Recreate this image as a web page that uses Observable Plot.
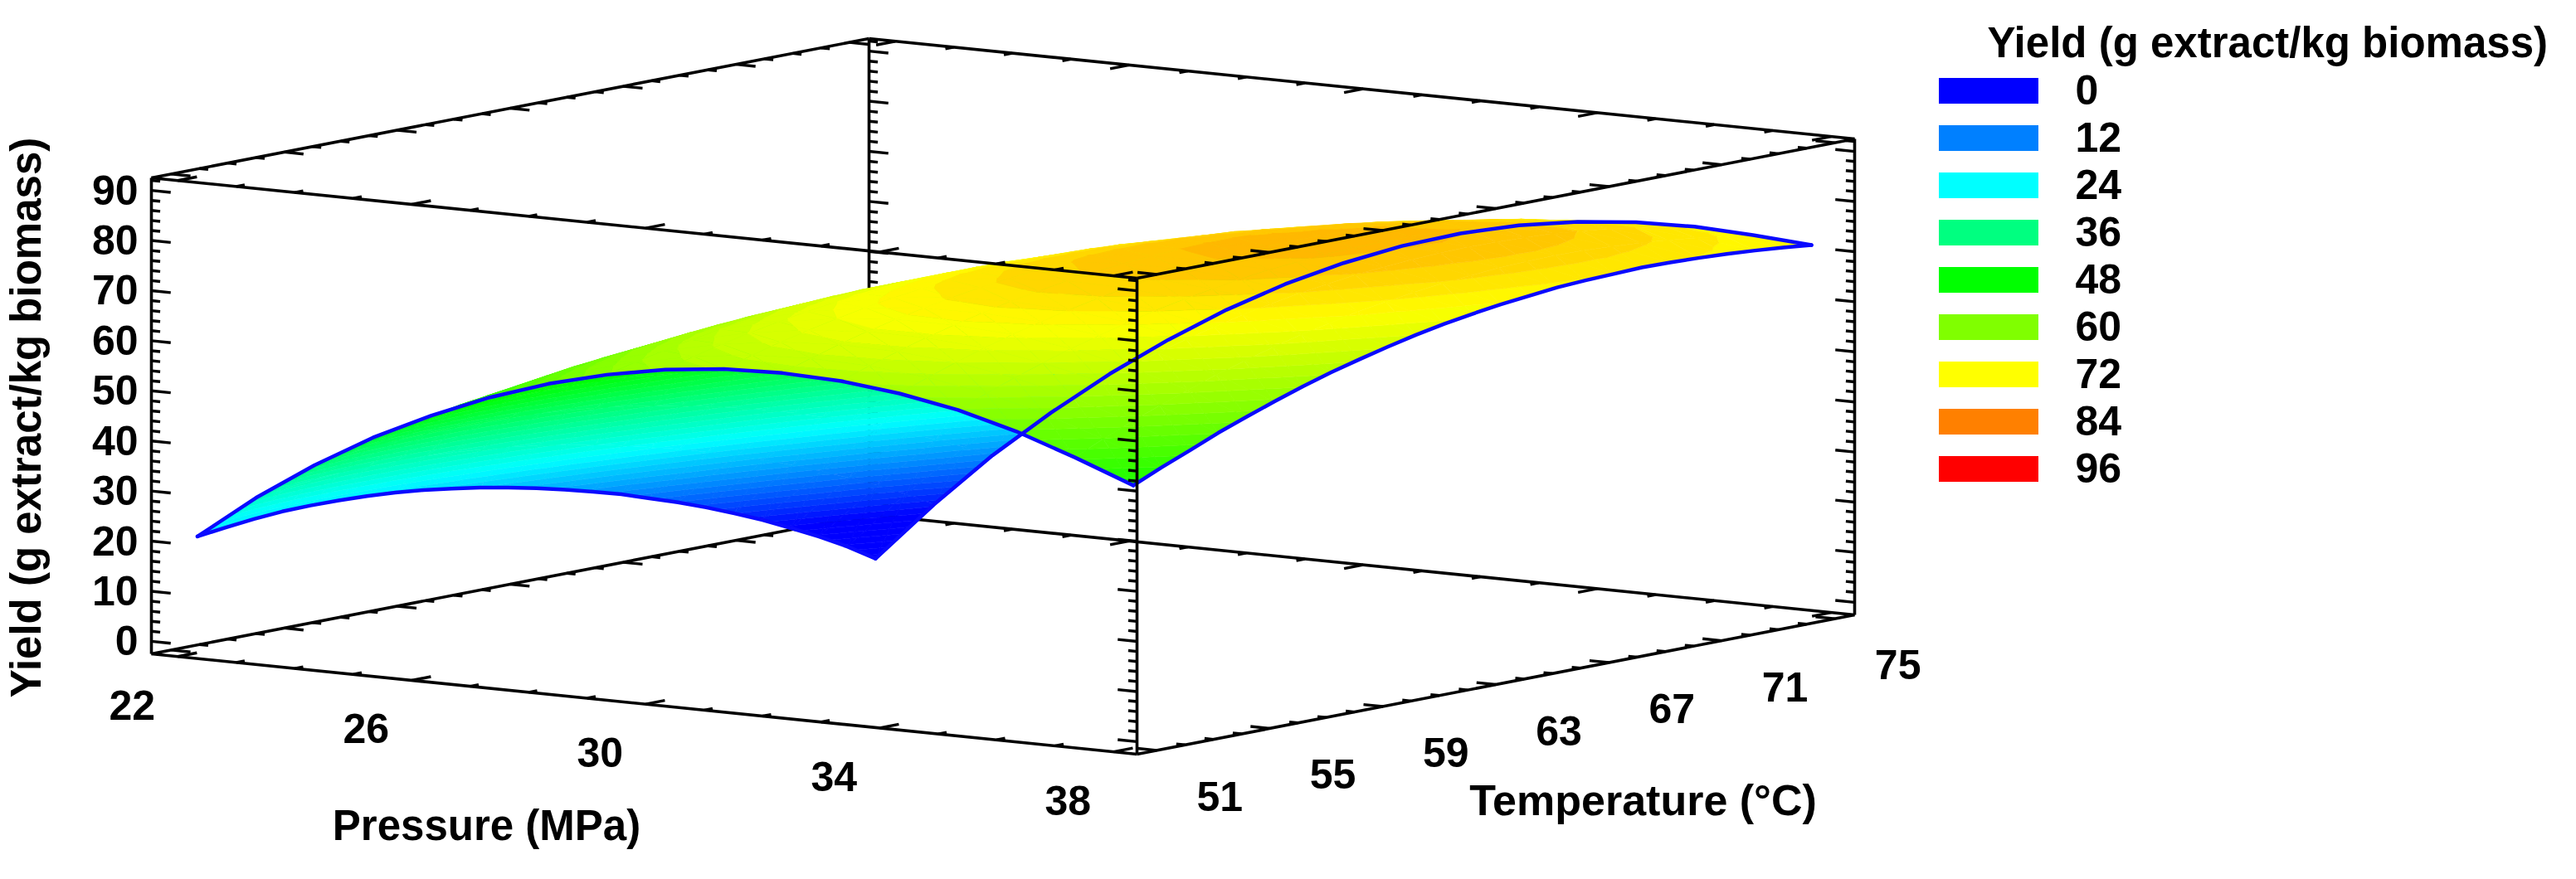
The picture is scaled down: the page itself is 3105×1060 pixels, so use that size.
<!DOCTYPE html>
<html>
<head>
<meta charset="utf-8">
<script src="https://cdn.jsdelivr.net/npm/d3@7"></script>
<script src="https://cdn.jsdelivr.net/npm/@observablehq/plot@0.6"></script>
<style>
html,body{margin:0;padding:0;background:#fff}
#chart{position:relative;width:3105px;height:1060px;overflow:hidden}
#chart svg{position:absolute;background:transparent;max-width:none}
</style>
</head>
<body>
<div id="chart"></div>
<script>
// ---- data ----
const pressures = [22,23,24,25,26,27,28,29,30,31,32,33,34,35,36,37,38];
const temperatures = [51,52,53,54,55,56,57,58,59,60,61,62,63,64,65,66,67,68,69,70,71,72,73,74,75];
// one row per temperature, one column per pressure
const yieldRows = [
[20.7,29.6,37.3,44.0,49.6,54.4,58.3,61.3,63.5,64.8,65.2,64.8,63.5,61.4,58.3,54.3,49.9],
[21.4,30.4,38.1,44.8,50.6,55.5,59.5,62.7,65.0,66.5,67.0,66.7,65.6,63.6,60.7,56.9,52.4],
[22.0,30.9,38.8,45.5,51.4,56.5,60.6,63.9,66.4,68.0,68.7,68.5,67.5,65.6,62.9,59.2,54.7],
[22.4,31.3,39.2,46.1,52.1,57.3,61.6,65.0,67.6,69.3,70.2,70.1,69.3,67.5,64.9,61.4,57.1],
[22.5,31.5,39.4,46.5,52.6,57.9,62.4,66.0,68.7,70.5,71.5,71.6,70.9,69.3,66.8,63.4,59.2],
[22.4,31.5,39.5,46.7,53.0,58.4,63.0,66.7,69.6,71.6,72.7,72.9,72.3,70.8,68.5,65.3,61.2],
[22.2,31.3,39.5,46.8,53.2,58.8,63.5,67.4,70.4,72.5,73.7,74.1,73.6,72.3,70.1,67.0,63.1],
[21.8,31.0,39.3,46.7,53.3,59.0,63.9,67.9,71.0,73.2,74.6,75.1,74.8,73.6,71.5,68.6,64.8],
[21.2,30.5,38.9,46.5,53.2,59.1,64.1,68.2,71.4,73.8,75.3,76.0,75.8,74.7,72.8,70.0,66.3],
[20.4,29.9,38.4,46.2,53.0,59.0,64.1,68.4,71.8,74.3,75.9,76.7,76.6,75.7,73.9,71.2,67.7],
[19.5,29.1,37.8,45.6,52.6,58.7,64.0,68.4,71.9,74.6,76.4,77.3,77.4,76.6,74.9,72.4,69.0],
[18.4,28.1,37.0,45.0,52.1,58.4,63.8,68.3,71.9,74.7,76.7,77.7,77.9,77.3,75.7,73.3,70.1],
[17.2,27.1,36.0,44.2,51.4,57.8,63.3,68.0,71.8,74.7,76.8,78.0,78.3,77.8,76.4,74.1,71.0],
[15.8,25.8,35.0,43.2,50.6,57.1,62.8,67.6,71.5,74.6,76.8,78.1,78.6,78.2,76.9,74.8,71.8],
[14.3,24.4,33.7,42.1,49.6,56.3,62.1,67.0,71.1,74.3,76.6,78.1,78.7,78.4,77.3,75.3,72.4],
[12.7,22.9,32.3,40.8,48.5,55.3,61.2,66.3,70.5,73.8,76.3,77.9,78.7,78.5,77.5,75.7,73.0],
[10.8,21.2,30.8,39.4,47.2,54.2,60.2,65.4,69.8,73.2,75.9,77.6,78.5,78.5,77.6,75.9,73.3],
[8.9,19.4,29.1,37.9,45.8,52.9,59.1,64.4,68.9,72.5,75.2,77.1,78.1,78.3,77.5,76.0,73.5],
[6.8,17.4,27.2,36.2,44.2,51.4,57.8,63.2,67.9,71.6,74.5,76.5,77.6,77.9,77.3,75.9,73.7],
[4.5,15.3,25.2,34.3,42.5,49.8,56.3,61.9,66.7,70.6,73.6,75.7,77.0,77.4,77.0,75.6,73.6],
[2.1,13.0,23.1,32.3,40.6,48.1,54.7,60.5,65.3,69.4,72.5,74.8,76.2,76.7,76.4,75.2,73.4],
[-0.6,10.6,20.8,30.1,38.6,46.2,53.0,58.8,63.9,68.0,71.3,73.7,75.2,75.9,75.8,74.7,73.1],
[-3.4,8.0,18.3,27.8,36.4,44.2,51.1,57.1,62.2,66.5,69.9,72.5,74.2,75.0,74.9,74.0,72.7],
[-6.5,5.2,15.7,25.4,34.1,42.0,49.0,55.2,60.4,64.9,68.4,71.1,72.9,73.9,74.0,73.3,72.2],
[-10.0,2.0,13.0,22.7,31.6,39.6,46.8,53.1,58.5,63.1,66.8,69.6,71.5,72.6,72.9,72.4,71.6]
];
const pressureTicks = [22,26,30,34,38];
const pressureMinor = [22,23,24,25,26,27,28,29,30,31,32,33,34,35,36,37,38];
const temperatureTicks = [51,55,59,63,67,71,75];
const temperatureMinor = [51,52,53,54,55,56,57,58,59,60,61,62,63,64,65,66,67,68,69,70,71,72,73,74,75];
const yieldTicks = [0,10,20,30,40,50,60,70,80,90];
const yieldMinor = [0,2,4,6,8,10,12,14,16,18,20,22,24,26,28,30,32,34,36,38,40,42,44,46,48,50,52,54,56,58,60,62,64,66,68,70,72,74,76,78,80,82,84,86,88,90,92];
const legendValues = [0,12,24,36,48,60,72,84,96];
const legendColors = ["#0000ff","#0080ff","#00ffff","#00ff80","#00ff00","#80ff00","#ffff00","#ff8000","#ff0000"];
const titleYield = "Yield (g extract/kg biomass)";
const titlePressure = "Pressure (MPa)";
const titleTemperature = "Temperature (°C)";

// ---- parallel projection of the 3-D box ----
const Pd = [21.55, 38.4], Td = [50.3, 75.7], Yd = [-2.5, 92.5];
const view = {origin:[182,788], P:[1188,121], T:[865,-168], Y:[0,-574]};
function project(p,t,y){
  const u=(p-Pd[0])/(Pd[1]-Pd[0]), v=(t-Td[0])/(Td[1]-Td[0]), w=(y-Yd[0])/(Yd[1]-Yd[0]);
  return [view.origin[0]+u*view.P[0]+v*view.T[0]+w*view.Y[0],
          view.origin[1]+u*view.P[1]+v*view.T[1]+w*view.Y[1]];
}
const seg=(a,b,kind)=>({x1:a[0],y1:a[1],x2:b[0],y2:b[1],kind});

// box edges and ticks, split into parts behind and in front of the surface
const back=[], front=[];
const [P0,P1]=Pd,[T0,T1]=Td,[Y0,Y1]=Yd;
const reachP={major:.33,minor:.15}, reachT={major:.68,minor:.3};
function addVertical(list,p,t,s){
  list.push(seg(project(p,t,Y0),project(p,t,Y1),"edge"));
  yieldMinor.forEach(y=>{const k=yieldTicks.includes(y)?"major":"minor";
    list.push(seg(project(p,t,y),project(p+s*reachP[k],t,y),k));});
}
function addPEdge(list,t,y,s){
  list.push(seg(project(P0,t,y),project(P1,t,y),"edge"));
  pressureMinor.forEach(p=>{const k=pressureTicks.includes(p)?"major":"minor";
    list.push(seg(project(p,t,y),project(p,t+s*reachT[k],y),k));});
}
function addTEdge(list,p,y,s){
  list.push(seg(project(p,T0,y),project(p,T1,y),"edge"));
  temperatureMinor.forEach(t=>{const k=temperatureTicks.includes(t)?"major":"minor";
    list.push(seg(project(p,t,y),project(p+s*reachP[k],t,y),k));});
}
addVertical(back,P0,T1,1);
addPEdge(back,T1,Y0,-1);
addTEdge(back,P0,Y0,1);
addVertical(front,P0,T0,1);
addVertical(front,P1,T0,-1);
addVertical(front,P1,T1,-1);
addPEdge(front,T0,Y0,1);
addPEdge(front,T0,Y1,1);
addPEdge(front,T1,Y1,-1);
addTEdge(front,P1,Y0,-1);
addTEdge(front,P1,Y1,-1);
addTEdge(front,P0,Y1,1);

// facets of the surface, painted from the far corner to the near one;
// each facet is cut along the colour bands of the yield scale
const bandStep=1.5;
const mix=(a,b,f)=>({p:a.p+(b.p-a.p)*f,t:a.t+(b.t-a.t)*f,y:a.y+(b.y-a.y)*f});
function clipBand(poly,level,keepAbove){
  const out=[];
  poly.forEach((a,i)=>{
    const b=poly[(i+1)%poly.length];
    const ina=keepAbove?a.y>=level:a.y<=level, inb=keepAbove?b.y>=level:b.y<=level;
    if(ina) out.push(a);
    if(ina!==inb) out.push(mix(a,b,(level-a.y)/(b.y-a.y)));
  });
  return out;
}
const facets=[];
let fid=0;
for(let j=temperatures.length-2;j>=0;j--){
  for(let i=0;i<pressures.length-1;i++){
    const c=[[i,j],[i+1,j],[i+1,j+1],[i,j+1]].map(([a,b])=>({p:pressures[a],t:temperatures[b],y:yieldRows[b][a]}));
    const tris=[[c[3],c[2],c[1]],[c[3],c[1],c[0]]];
    tris.forEach(tri=>{
      const lo=Math.floor(d3.min(tri,d=>d.y)/bandStep), hi=Math.ceil(d3.max(tri,d=>d.y)/bandStep);
      for(let b=lo;b<hi;b++){
        let piece=clipBand(tri,b*bandStep,true);
        if(piece.length) piece=clipBand(piece,(b+1)*bandStep,false);
        if(piece.length<3) continue;
        const v=(b+.5)*bandStep;
        piece.forEach(d=>{const q=project(d.p,d.t,d.y);facets.push({id:fid,x:q[0],y:q[1],v});});
        fid++;
      }
    });
  }
}
// the blue outline of the surface
const outline=[];
pressures.forEach((p,i)=>{
  let q=project(p,temperatures[0],yieldRows[0][i]);outline.push({e:"a",x:q[0],y:q[1]});
  q=project(p,temperatures[24],yieldRows[24][i]);outline.push({e:"b",x:q[0],y:q[1]});
});
temperatures.forEach((t,j)=>{
  let q=project(pressures[0],t,yieldRows[j][0]);outline.push({e:"c",x:q[0],y:q[1]});
  q=project(pressures[16],t,yieldRows[j][16]);outline.push({e:"d",x:q[0],y:q[1]});
});

const font={fontFamily:"'Liberation Sans',Arial,sans-serif",fontWeight:"bold",fill:"#000"};
const boxMarks=list=>[
  Plot.link(list.filter(d=>d.kind==="edge"),{x1:"x1",y1:"y1",x2:"x2",y2:"y2",stroke:"#000",strokeWidth:3.6}),
  Plot.link(list.filter(d=>d.kind!=="edge"),{x1:"x1",y1:"y1",x2:"x2",y2:"y2",stroke:"#000",strokeWidth:3.4})
];
const colorScale={type:"linear",domain:legendValues,range:legendColors,clamp:true,interpolate:"rgb"};

const main=Plot.plot({
  width:3105,height:1060,margin:0,
  x:{domain:[0,3105],range:[0,3105],axis:null},
  y:{domain:[0,1060],range:[0,1060],axis:null},
  color:colorScale,
  style:{background:"transparent"},
  marks:[
    ...boxMarks(back),
    Plot.line(facets,{x:"x",y:"y",z:"id",fill:"v",stroke:"v",strokeWidth:0.8}),
    Plot.line(outline,{x:"x",y:"y",z:"e",stroke:"#0a0aff",strokeWidth:4.5}),
    ...boxMarks(front),
    Plot.text(pressureTicks,{x:d=>project(d,T0,Y0)[0],y:d=>project(d,T0,Y0)[1],text:String,dx:-55,dy:60,fontSize:50,...font}),
    Plot.text(temperatureTicks,{x:d=>project(P1,d,Y0)[0],y:d=>project(P1,d,Y0)[1],text:String,dx:76,dy:57,fontSize:50,...font}),
    Plot.text(yieldTicks,{x:d=>project(P0,T0,d)[0],y:d=>project(P0,T0,d)[1],text:String,dx:-16,dy:1,textAnchor:"end",fontSize:50,...font}),
    Plot.text([titlePressure],{frameAnchor:"top-left",dx:586,dy:996,text:d=>d,textAnchor:"middle",lineAnchor:"middle",fontSize:51,...font}),
    Plot.text([titleTemperature],{frameAnchor:"top-left",dx:1980,dy:966,text:d=>d,textAnchor:"middle",lineAnchor:"middle",fontSize:52,...font}),
    Plot.text([titleYield],{frameAnchor:"top-left",dx:32,dy:503,rotate:-90,text:d=>d,textAnchor:"middle",lineAnchor:"middle",fontSize:51,...font}),
    Plot.text([titleYield],{frameAnchor:"top-left",dx:2395,dy:52,text:d=>d,textAnchor:"start",lineAnchor:"middle",fontSize:51,...font})
  ]
});
main.style.left="0";main.style.top="0";

const legend=Plot.plot({
  width:700,height:521,margin:0,
  x:{domain:[0,700],range:[0,700],axis:null},
  y:{type:"band",domain:legendValues,paddingInner:.46,paddingOuter:.23,axis:null},
  color:colorScale,
  style:{background:"transparent"},
  marks:[
    Plot.barX(legendValues,{x1:0,x2:120,y:d=>d,fill:d=>d}),
    Plot.text(legendValues,{x:164,y:d=>d,text:String,textAnchor:"start",fontSize:50,...font})
  ]
});
legend.style.left="2337px";legend.style.top="77px";
document.getElementById("chart").append(main,legend);
</script>
</body>
</html>
